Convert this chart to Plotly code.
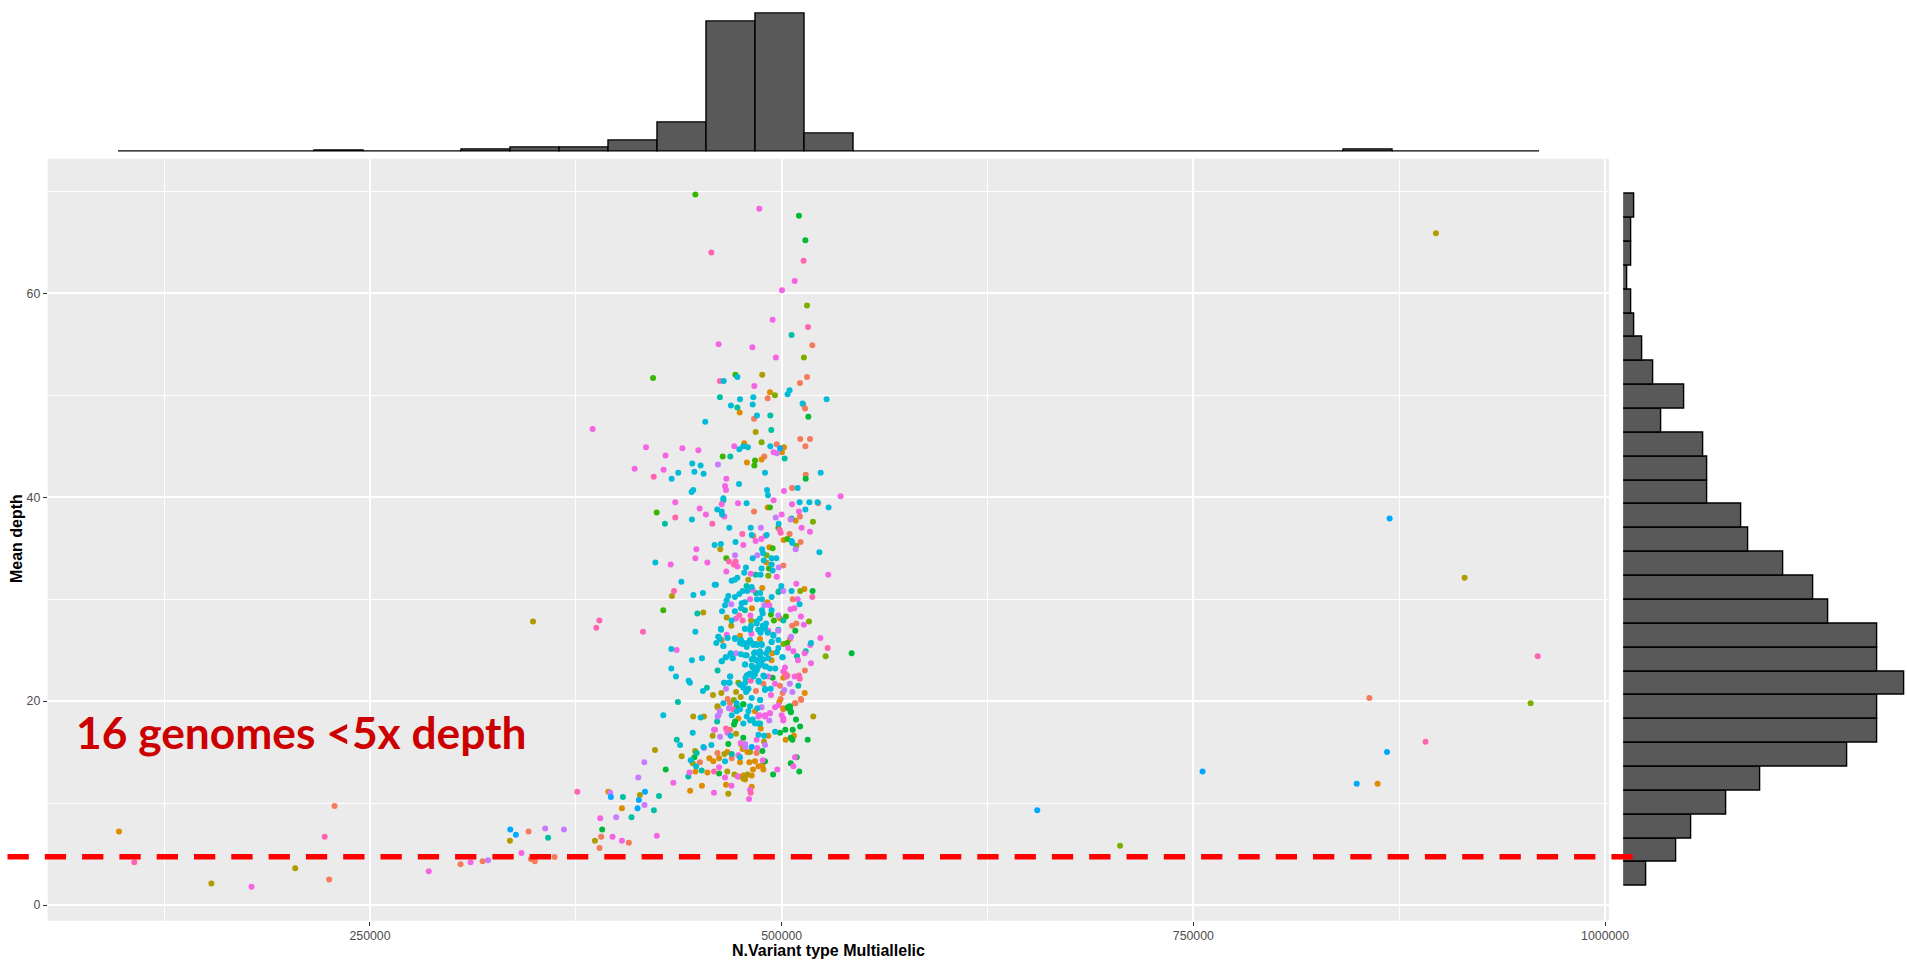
import plotly.graph_objects as go

# ---- scatter values: (N.Variant type Multiallelic in thousands, Mean depth)
RED = [(518.6,54.9),(515.4,51.8),(511.1,51.2),(491.5,49.7),(514.2,48.7),(513.1,49.1),(483.2,47.7),(511.3,45.7),(517.2,45.7),(514.4,45.0),(497,45.2),
(514.6,42.2),(489.5,44),(506.3,40.9),(483.2,38.6),(522.2,39.4),(511.1,38.1),(504.8,36.4),(511.5,35.6),(482.8,36.2),(501,33.3),(506.7,30),(506.3,27.4),(508.9,27.6),(505,26.1),(514.1,23),(503.4,22.5),(499,21.5),(500.6,20.8),(467.2,20.2),(484.4,21),(488.9,21.7),(499.4,20.2),(511.7,20.2),(508.3,19.8),(501,19.2),
(450.4,14),(461,14.9),(468.6,17.2),(469.7,14.4),(484.8,14.9),(468.6,19.8),(508,19.8),(511.8,20.1),
(346.3,7.2),(390.4,6.7),(389.4,5.6),(407.2,6.1),(362.1,4.7),(228.5,9.7),(225.2,2.5),(305,4),(318.4,4.3),(347.8,4.5),(350.1,4.3),(856.9,20.3)]
ORANGE = [(492.9,50.3),(474.5,48.3),(477.3,45.3),(501.4,44.9),(478.9,43.4),(487.8,43.7),(491.5,39),(508.5,37.7),(501.2,35.8),(492.5,35.1),(490.7,33.6),(488.2,31.1),(513.8,31),(491.3,29.7),(482,29.1),(499,28.1),(474.7,26.4),(463.6,26),(486.8,26.1),(494.3,24.7),(493.9,24),(501,22.3),(514,20.8),(500.2,44.4),
(444.4,11.2),(451.6,11.7),(466.2,11.8),(481.8,11.6),(447.6,13.1),(454.9,13),(456.1,14.4),(458.5,14.1),(462,14.4),(467,15),(476.3,15.3),(479.2,15),(474.7,14),(480.4,14),(483.8,14.1),(485.9,13.6),(482.6,13.3),(488.3,13.7),(488.9,13.3),(473.7,12.6),(476.7,12.7),(481.8,12.7),(491.9,16.6),(502.4,16.2),(507.5,16.6),(477.8,12.3),
(498.6,19.9),(501,19.3),(487.3,17.3),(473.7,18.3),(483.8,19),(394.7,11.1),(403,9.5),(97.6,7.2),(861.9,11.9)]
OLIVE = [(488.2,52),(484.2,46.4),(462.7,34.9),(479.7,31.9),(433.4,30.3),(349,27.8),(452.4,28.7),(466.6,28.2),(481.4,27.9),(469.4,27.4),(458.3,20.6),(463.4,20.8),(472.3,20.9),(475.1,20.4),(461.1,19.4),(446.3,18.5),(452.8,18.5),(519.2,18.5),
(423.1,15.2),(439.3,14.6),(447.4,15.1),(446,13.9),(458.1,16.6),(472.3,16.8),(475.3,15.8),(471.3,12.8),(476.7,12.4),(479.2,12.8),(467.6,10.9),(489.3,16),(480.8,15),(465.2,14.8),(467,13.1),(461,19.5),(413.9,10.8),(335,6.3),(386.6,6.3),(153.7,2.1),(204.6,3.6),(897.3,65.9),(914.7,32.1)]
LIME = [(515.4,58.8),(513.5,53.7),(495.9,50),(487.8,45.4),(519,37.6),(508.9,35.2),(491.9,32.3),(511.3,30.8),(516.6,27.8),(526.7,24.4),(473.7,21.8),(501,25.6),(490.9,34.3),(471,20.1),(954.8,19.8),(705.5,5.8)]
LEAF = [(447.6,69.7),(421.9,51.7),(471.9,52),(464.2,44),(483.8,43.6),(483.4,43.1),(492.9,39),(424.1,38.5),(498,37),(503.4,35.9),(494.5,35),(466.4,34),(492.3,33),(428.1,28.9),(493.5,28.5),(502.6,28.3),(495.3,27.9),(503.4,25.7)]
GREEN = [(510.5,67.6),(514.4,65.2),(516.2,47.9),(514.6,41.8),(518.8,30.8),(508.3,26.9),(542.5,24.7),(494.5,22.3),(505,19.4),(503.8,19.4),(505.6,18.9),(476.7,19.7),(472.7,19.5),
(429.6,13.3),(502.2,17.2),(508.7,18.2),(511.2,17.5),(506.7,17.2),(499,16.9),(505.5,16.4),(506.5,16.2),(515.8,16.2),(509.1,14.5),(505.5,13.9),(510.7,13.1),(494.8,12.8),(462,12.9),(476.7,16.4),(467.6,15.8),(488.3,15.1),(489.9,14.1),(447,14.5),(471.1,17.7),(505,19.5),(504,19.3),(505.5,19),(476.7,19.7),(471.7,18),(485.9,17.8),(391,7.4)]
TEAL = [(506,55.9),(493.1,48),(493.7,46.6),(462.5,49.8),(473.1,48.8),(468.8,44),(501.8,43.8),(464.6,39.7),(506,37.9),(429.1,37.4),(484.2,32.4),(478.7,31.3),(498.6,30.8),(484.4,30.6),(448.8,28.6),(509.3,24.4),(514.6,24.9),(461.1,23),(454.6,21.3),(437,19.9),(510.1,21.5),(478.7,24.5),(501,27.9),(498,27),(498,30.7),(477.7,28.9),
(436.3,16.2),(443.3,12.6),(425.5,10.7),(448.4,14.9),(451.4,13.2),(469.7,14.8),(460.8,18),(403.6,10.6),(422.4,9.3),(408.8,8.6),(358.2,6.6)]
PURPLE = [(461.3,43.2),(497.1,44.3),(496.4,38),(505.4,37.8),(487.4,37),(508.5,34.9),(485.2,34.3),(471.7,34.3),(498.2,33.1),(501,30.8),(489.5,29.4),(469.4,29.5),(472.3,24.7),(498,28.4),(505.7,26.3),(498,26.9),(505,21.7),(501.6,21.1),(506.5,20.9),(466.2,21.2),(462.5,19),(468.2,19.3),(487.8,19.4),(461.1,18.5),
(416.6,14),(452.9,15.4),(462.6,16.5),(477.8,15.8),(477.8,15.5),(412.9,12.5),(458.9,17.2),(489.9,15.7),(468,19.3),(461.6,18.6),(462.6,19),(492.5,18.1),(395.9,11),(416.7,9.8),(399.5,8.6),(356.4,7.5),(367.8,7.4),(321.7,4.4)]
MAGENTA = [(486.4,68.3),(507.9,61.2),(500.2,60.3),(494.5,57.4),(461.7,55),(482.2,54.7),(496.5,53.7),(483.4,50.9),(385.2,46.7),(417.6,44.9),(439.7,44.8),(449.4,44.6),(471.2,45),
(429.5,44.1),(410.7,42.8),(428.3,42.7),(466.4,41.8),(465.6,41.1),(466.2,40.7),(501.4,40.6),(495.1,44.4),(435.4,39.5),(463.6,39.3),(473.5,39.4),(495.1,39.7),(506.3,39.3),(535.8,40.1),(450.2,38.9),(454,38.3),(465.2,38.1),(500,38.3),(510.5,38.6),
(512.1,37),(517.2,36.6),(490.1,36.2),(487.6,35.9),(484.2,35.7),(476.7,35.3),(448.2,34.9),(447.6,34),(432.6,33.4),(454.9,33.6),(473.1,33.2),(466.4,32.7),(481.2,32.5),(497,32.2),(528.3,32.4),(508.9,31.5),(482.4,30.9),
(505.4,29),(507.7,29.1),(509.7,30),(480.8,30),(492.5,29.4),(472.3,28.1),(481,28.4),(511.7,28.3),(513.5,27.5),(466.6,26.5),(481.6,26.6),(491.9,26.9),(523.5,26.2),(504,25.2),(507.1,24.9),(514,24.7),(517.4,25.5),(436.2,25),(509.9,24),(517.8,23.7),(502,23.3),(501,22.9),(507.9,22.4),(493.5,20.6),(495.9,21.7),(491.9,22.4),(498,19.6),(492.9,18.8),(489.9,18.5),(485.8,18.5),
(434.2,12),(458.9,11),(462,13.5),(465.6,12.5),(469.5,11.7),(473.3,12.6),(480.8,11.3),(480.2,10.4),(488.5,14.2),(497.4,13.3),(508.1,14.5),(507.1,13.6),(444,13),(459.5,17.2),(467,16.9),(484.8,16.2),(475.1,15.9),(485.2,15.4),(473.7,14.7),(501,18.1),
(496,19.4),(492.9,18.8),(489.9,18.6),(486.5,18.6),(501,18.3),(500,18.6),(389.8,8.5),(397.3,6.7),(403,6.3),(424.2,6.8),(342,5.1),(178.1,1.8),(285.7,3.3),(311.1,4.2)]
PINK = [(457.3,64),(513.3,63.2),(516,56.7),(462.5,51.4),(422.3,42),(435.4,38),(457.9,37.4),(476.1,36.4),(498.8,36.8),(499.4,36.5),(468,33.7),(472,33.7),(471,33.4),(434.6,30.8),(518.6,30.2),(389.3,27.9),(387.4,27.2),(415.8,26.8),(476.3,27.9),(474.3,28.4),(527.9,25.2),(510.5,22.5),(511,22.2),(502,22.7),(503,22.4),(481.2,22),(470.6,19.2),
(481.2,11),(466.2,17.3),(458.9,13.1),(375.9,11.1),(106.9,4.2),(222.5,6.7),(959.1,24.4),(891,16)]
BLUE = [(499,44.8),(481.8,15.5),(417,11.1),(396.3,10.6),(413.3,10.3),(412.5,9.5),(335.2,7.4),(338.6,6.9),(869.2,37.9),(867.6,15),(849.2,11.9),(755.6,13.1),(655.2,9.3)]
CYAN = [(464.8,51.4),(473.1,51.8),(504.8,50.5),(503.6,50.1),(527.3,49.6),(512.7,49.2),(474.7,49.6),(482.8,49.8),(482.4,49.1),(469.2,49),(485,48),(453.6,47.4),(493.1,45),(476.7,45),(479.5,44.9),(474.3,44.7),
(445.7,43.3),(450.8,43.1),(447,42.5),(452.6,42.3),(437.2,42.4),(433.2,41.8),(489.9,42.4),(523.7,42.4),(474.1,41.3),(446.3,40.7),(445.3,40.5),(491.1,40.7),(491.7,40.2),(509.7,40.9),(478.7,39.4),(510.9,39.5),(516.8,39.5),(521.8,39.5),(514.4,38.8),(528.5,39),(460.9,38.8),(463.6,38.6),(463.8,38.3),(464.6,39.9),(445.5,37.8),(498.2,37.4),(468.2,37),(481.2,37),(481.8,36.3),(490.9,36.3),(472,35.6),(506,35.7),(506.5,35.5),(459.3,35.3),(463.1,35.4),(488.1,34.9),(488.7,34.5),(522.9,34.6),(482.4,34),(493.9,34),(496.7,34),(489.1,33.8),(493.9,33.4),(423.3,33.6),(478.3,33.1),(477.3,32.6),(487.8,33),(494.5,32.8),(487.2,32.4),(473.1,32.1),(471.6,31.9),(469.6,31.8),(439.1,31.7),(459.3,31.4),(460.1,31.4),(481.8,31.2),(499.8,31.3),(476.3,30.8),(479.1,30.8),(506,30.8),(452.2,30.6),(446.4,30.4),(467.6,30.3),(471.6,30.2),(474.3,30.5),(487,30.6),(493.9,30.2),(485,30),(488,30),(477.7,29.7),(475.7,29.6),(466.6,29.9),(465.6,29.4),(510.9,29.5),(475.3,29.1),(463.8,28.8),(471.6,28.8),(488,28.9),(488.5,28.6),(493.9,28.9),(469.6,27.9),(486.8,28.1),(484.8,27.8),(490.5,27.6),(481.4,27.4),(488.5,27.4),(489.9,27.2),(463.1,27.1),(477.7,27.1),(485.8,27),(487.2,26.7),(491.5,26.7),(447.6,26.8),(494.9,26.4),(461.5,26.3),(467.2,26.2),(471.6,26.2),(475.3,26),(498,26),(460.3,25.7),(464.6,25.4),(476.1,25.6),(479.1,25.7),(481.8,25.7),(484.4,25.6),(487.8,25.6),(493.9,25.8),(517.8,25.7),(433,25.1),(498,25.2),(491.9,25.1),(486.8,24.9),(469,24.6),(475.3,24.6),(483.2,24.7),(486.8,24.5),(497,24.8),(500.4,24.3),(451.6,24.2),(445.5,24),(466,24.3),(470.2,24.2),(463.6,23.9),(481.8,24.1),(484.4,24),(488.9,24.1),(482.4,23.3),(485.8,23.4),(487.8,23.6),(490.5,23.4),(492.9,23.2),(496.1,23.2),(477.7,23.6),(433,23.2),(484.8,23),(483.8,22.6),(479.7,22.6),(481.8,22.6),(478.1,22.3),(489.5,22.4),(468.8,22.4),(435.8,22.4),(443.5,22),(444.3,21.8),(465,21.8),(468.4,21.8),(486.2,21.9),(476.7,21.3),(478.7,21),(479.7,21.2),(489.9,21.2),(493.3,21.2),(452.2,21),(481.8,20.3),(487,20.1),(428.1,18.6),(450.8,18.4),
(480.8,26),(482.8,25.5),(485.2,25.5),(487.9,25.5),(478.8,25.3),(476.7,25.7),(484.8,27.6),(488.9,27.3),(483.8,24.8),(486.9,24.7),(490.5,24.7),(491.9,25),(482.8,24.2),(484.8,24),(487.9,24),(481.8,23.5),(485.2,23.2),(483.8,23),(480.8,22.7),(478.8,22.5),(482.8,22.4),(485.9,22),(477.8,21.8),(479.8,21.2),(478.4,20.9),(486.9,20.1),(489.9,21.1),(474.7,21.6),(468.6,22.4),(465.2,21.8),(468.2,21.8),(462.6,26.1),(463.2,27),(461.6,26.3),(464.6,25.4),(466.2,24.3),(469,24.7),(463.6,23.9),(470.3,24.2),(477.8,23.6),(477.8,24.5),(475.7,25.8),(471.7,26.1),(474.7,25.7),(477.8,27.1),(480.8,27),(488.9,27.1),(495,26.5),(493.9,25.8),(500.6,24.3),(491.9,24.2),(489.9,23.4),(488.9,22.5),(485.9,23.5),(482.8,22.7),(472.7,19.8),
(446,16.9),(438.3,15.7),(444.8,14.2),(457.3,15.7),(469,16.6),(465.6,14.1),(485.9,16.7),(489.3,16.6),(496,17),(452.5,15.5),(448,13.6),(476.7,17.8),(480.8,18.1),(483.8,17.8),(474.7,14.5),
(474.7,19.2),(472.7,19),(478.8,18.5),(479.8,19),(480.8,19.5),(485.2,19.3),(464.6,19.8),(482.4,18.2),(469.7,18.6),(486.9,17.8)]

# ---- top histogram: counts per bin (left to right)
TOP_COUNTS = [2,1,1,1,3,0,2,5,11,11,26,70,310,330,43,0,0,0,1,0,1,0,1,0,0,5,2,1,2]
TOP_START_K = 97.3
TOP_BIN_K = 29.76

# ---- right histogram: counts per bin (bottom to top)
RIGHT_COUNTS = [6,14,18,27,36,59,67,67,74,67,67,54,50,42,33,31,22,22,21,10,16,8,5,3,2,1,2,2,3]
RIGHT_START = 1.86
RIGHT_BIN = 2.341

X_TICKS = [250000, 500000, 750000, 1000000]
X_MINOR = [125000, 375000, 625000, 875000]
Y_TICKS = [0, 20, 40, 60]
Y_MINOR = [10, 30, 50, 70]
CUTOFF = 4.73
LABEL = "16 genomes &lt;5x depth"
X_TITLE = "N.Variant type Multiallelic"
Y_TITLE = "Mean depth"

W, H = 1907, 960
def fx(p): return p / W
def fy(p): return 1 - p / H

SERIES = [("#F47B5C", RED), ("#DE8C00", ORANGE), ("#B09C00", OLIVE), ("#7CAE00", LIME), ("#39B600", LEAF),
          ("#00BA38", GREEN), ("#00BFA5", TEAL), ("#C77CFF", PURPLE), ("#F564E3", MAGENTA), ("#FF64B0", PINK),
          ("#00A9FF", BLUE), ("#00BCD8", CYAN)]

fig = go.Figure()
for colour, pts in SERIES:
    fig.add_trace(go.Scatter(x=[p[0] * 1000 for p in pts], y=[p[1] for p in pts], mode="markers",
                             marker=dict(color=colour, size=6, line=dict(width=0)),
                             xaxis="x", yaxis="y", showlegend=False))

fig.add_trace(go.Bar(x=[(TOP_START_K + TOP_BIN_K * (i + 0.5)) * 1000 for i in range(len(TOP_COUNTS))],
                     y=TOP_COUNTS, width=TOP_BIN_K * 1000,
                     marker=dict(color="#595959", line=dict(color="black", width=1.4)),
                     xaxis="x2", yaxis="y2", showlegend=False, cliponaxis=False))
fig.add_trace(go.Bar(y=[RIGHT_START + RIGHT_BIN * (i + 0.5) for i in range(len(RIGHT_COUNTS))],
                     x=RIGHT_COUNTS, width=RIGHT_BIN, orientation="h",
                     marker=dict(color="#595959", line=dict(color="black", width=1.4)),
                     xaxis="x3", yaxis="y3", showlegend=False, cliponaxis=False))

XR = [54300, 1002400]
YR = [-1.54, 73.2]
PANEL_X = [fx(47.7), fx(1609)]
PANEL_Y = [fy(920.7), fy(158.7)]
tick_font = dict(family="Liberation Sans", size=12.3, color="#4D4D4D")
title_font = dict(family="Liberation Sans", size=16, color="black")

fig.update_layout(
    width=W, height=H, autosize=False, margin=dict(l=0, r=0, t=0, b=0, autoexpand=False),
    paper_bgcolor="white", plot_bgcolor="rgba(0,0,0,0)", bargap=0, showlegend=False,
    xaxis=dict(domain=PANEL_X, range=XR, tickmode="array", tickvals=X_TICKS, ticktext=[str(v) for v in X_TICKS],
               ticks="outside", ticklen=4, tickcolor="#333333", tickwidth=1, tickfont=tick_font,
               showgrid=True, gridcolor="white", gridwidth=1.5, zeroline=False, showline=False, automargin=False,
               minor=dict(tickmode="array", tickvals=X_MINOR, showgrid=True, gridcolor="white", gridwidth=0.8, ticks=""),
               anchor="y"),
    yaxis=dict(domain=PANEL_Y, range=YR, tickmode="array", tickvals=Y_TICKS, ticktext=[str(v) for v in Y_TICKS],
               ticks="outside", ticklen=4, tickcolor="#333333", tickwidth=1, tickfont=tick_font,
               showgrid=True, gridcolor="white", gridwidth=1.5, zeroline=False, showline=False, automargin=False,
               minor=dict(tickmode="array", tickvals=Y_MINOR, showgrid=True, gridcolor="white", gridwidth=0.8, ticks=""),
               anchor="x"),
    xaxis2=dict(domain=PANEL_X, range=XR, visible=False, anchor="y2"),
    yaxis2=dict(domain=[fy(152), fy(6.6)], range=[0, 346], visible=False, anchor="x2"),
    xaxis3=dict(domain=[fx(1623.3), 1], range=[0, 74.7], visible=False, anchor="y3"),
    yaxis3=dict(domain=PANEL_Y, range=YR, visible=False, anchor="x3"),
    shapes=[
        dict(type="rect", xref="x domain", yref="y domain", x0=0, x1=1, y0=0, y1=1,
             fillcolor="#EBEBEB", line=dict(width=0), layer="below"),
        dict(type="line", xref="paper", yref="y", x0=fx(7.5), x1=fx(1634), y0=CUTOFF, y1=CUTOFF,
             line=dict(color="#FF0000", width=5.5, dash="21.3px,16px"), layer="above"),
    ],
    annotations=[
        dict(text="<b>" + LABEL + "</b>", xref="paper", yref="paper", x=fx(74), y=fy(731.5),
             xanchor="left", yanchor="middle", showarrow=False,
             font=dict(family="Lato", size=44.3, color="#CC0000")),
        dict(text="<b>" + X_TITLE + "</b>", xref="paper", yref="paper", x=fx(828), y=fy(950),
             xanchor="center", yanchor="middle", showarrow=False, font=title_font),
        dict(text="<b>" + Y_TITLE + "</b>", xref="paper", yref="paper", x=fx(16), y=fy(539),
             xanchor="center", yanchor="middle", showarrow=False, textangle=-90, font=title_font),
    ],
)

fig.write_html("out.html", config={"displayModeBar": False},
               post_script="document.body.style.margin='0';")
